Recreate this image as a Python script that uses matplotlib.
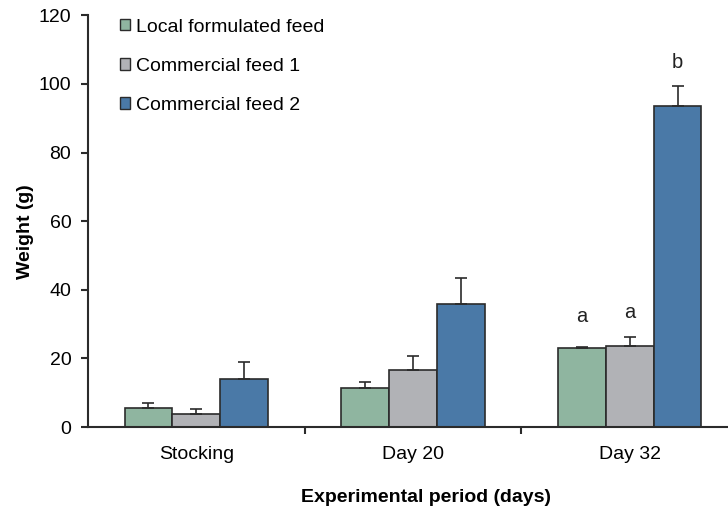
import matplotlib.pyplot as plt
import numpy as np
from matplotlib.patches import Patch

plt.rcParams['font.family'] = ['Liberation Sans', 'DejaVu Sans']

periods = ["Stocking", "Day 20", "Day 32"]
feeds = ["Local formulated feed", "Commercial feed 1", "Commercial feed 2"]
colors = ["#8fb5a0", "#b1b2b6", "#4a79a7"]

# mean weight and SD per feed, one list per feed across periods
local_mean = [5.6, 11.5, 22.9]
local_sd = [1.5, 1.6, 0.4]
com1_mean = [3.9, 16.6, 23.5]
com1_sd = [1.3, 4.0, 2.7]
com2_mean = [14.1, 35.8, 93.6]
com2_sd = [4.8, 7.7, 5.8]

means = [local_mean, com1_mean, com2_mean]
sds = [local_sd, com1_sd, com2_sd]

# significance letters on day 32
letters = ["a", "a", "b"]

fig = plt.figure(figsize=(7.28, 5.09), dpi=100)
ax = fig.add_axes([88/728, 1-427/509, 650/728, (427-15.4)/509])

x = np.arange(len(periods))
w = 0.221
edge = "#2b2b2b"
for i in range(3):
    pos = x + (i - 1) * w
    ax.bar(pos, means[i], w, color=colors[i], edgecolor=edge, linewidth=1.2, zorder=2)
    ax.errorbar(pos, means[i], yerr=[np.zeros(3), sds[i]], fmt="none",
                ecolor=edge, elinewidth=1.2, capsize=4, capthick=1.2, zorder=3)

# letters above the day 32 bars
offsets = [8.8, 7.3, 7.0]
for i in range(3):
    top = means[i][2] + sds[i][2]
    ax.text(2 + (i - 1) * w, top + offsets[i], letters[i], ha="center",
            va="center", fontsize=14.5, color="#222222")

ax.set_xlim(-0.5, 2.5)
ax.set_ylim(0, 120)
ax.set_yticks(range(0, 121, 20))
ax.set_xticks(x)
ax.set_xticklabels(periods)
ax.set_xticks([0.5, 1.5, 2.5], minor=True)
ax.tick_params(axis="x", which="major", length=0, pad=14, labelsize=14)
ax.tick_params(axis="x", which="minor", length=5, width=1.5, color=edge, direction="out")
ax.tick_params(axis="y", length=5, width=1.5, color=edge, labelsize=14, pad=7)
for s in ["top", "right"]:
    ax.spines[s].set_visible(False)
for s in ["left", "bottom"]:
    ax.spines[s].set_linewidth(1.5)
    ax.spines[s].set_color(edge)

fig.text(426/728, 1-497/509, "Experimental period (days)", ha="center", va="center",
         fontsize=14, fontweight="bold")
fig.text(25/728, 1-232/509, "Weight (g)", ha="center", va="center",
         rotation=90, fontsize=14, fontweight="bold")

handles = [Patch(facecolor=c, edgecolor=edge, linewidth=1.0) for c in colors]
ax.legend(handles, feeds, loc="upper left", bbox_to_anchor=(102/728, 1-1/509),
          bbox_transform=fig.transFigure, frameon=False, fontsize=14,
          handlelength=0.55, handleheight=0.55, handletextpad=0.3, labelspacing=1.15)

fig.savefig("out.png", dpi=100)
